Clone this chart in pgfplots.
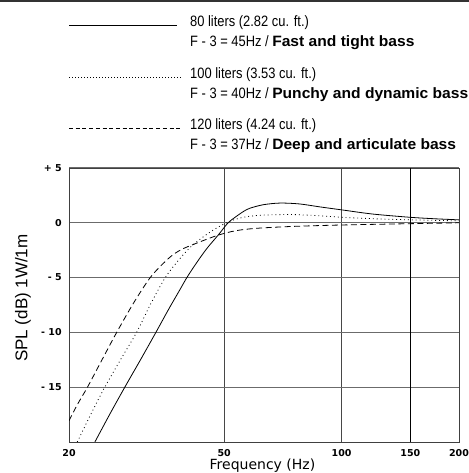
\documentclass[border=0pt]{standalone}
\usepackage{fontspec}
\setmainfont{Liberation Sans}
\newfontfamily\legreg[FakeStretch=0.86]{Liberation Sans}
\newfontfamily\legbf[FakeStretch=1.04]{Liberation Sans}
\newfontfamily\tickfont{DejaVu Sans}
\usepackage{pgfplots}
\pgfplotsset{compat=1.18}

\pgfplotstableread{
f db
23.3 -20
25.5 -17.4
27.8 -15
30.5 -12.5
33.4 -10
36 -7.9
38.5 -6.1
40.1 -5
42.1 -3.85
45 -2.4
48.3 -1.1
51.1 -0.02
53.3 0.5
56 1.03
58.2 1.33
63 1.65
69.5 1.8
78 1.72
88 1.45
100 1.18
120 0.8
150 0.5
175 0.36
200 0.27
}\eighty

\pgfplotstableread{
f db
21.0 -20
22.8 -17.4
24.7 -15
27.2 -12.4
29.8 -10
32.5 -7.3
35.3 -5
37.8 -3.6
40.1 -2.55
41.3 -2.1
44.1 -1.3
47.4 -0.55
50 -0.1
53 0.28
57.1 0.56
63 0.7
75 0.75
90 0.62
100 0.5
125 0.35
150 0.27
175 0.22
200 0.18
}\hundred

\pgfplotstableread{
f db
20 -18.06
21 -16.6
22.3 -15
24.3 -12.5
26.5 -10
29.3 -7.3
32.3 -5
34.9 -3.7
37 -2.9
39.3 -2.35
42.9 -1.8
45.5 -1.45
48.3 -1.12
52.2 -0.8
56 -0.62
61.8 -0.48
75 -0.33
100 -0.2
150 -0.08
200 0
}\hundredtwenty

\begin{document}
\begin{tikzpicture}[x=1bp,y=1bp]
\useasboundingbox (0,0) rectangle (469,473);
\draw[black!80, line width=2bp] (0,471.5) -- (469,471.5);

% legend samples
\draw[black, line width=0.8bp] (69,447.3) -- (177,447.3);
\draw[black, line width=0.8bp, dash pattern=on 0.8bp off 2.2bp] (69,395.7) -- (183,395.7);
\draw[black, line width=0.8bp, dash pattern=on 4bp off 2.7bp] (69,344.7) -- (182,344.7);

\node[anchor=base west, inner sep=0] at (190,446.3) {\fontsize{15bp}{18bp}\legreg 80 liters (2.82 cu. ft.)};
\node[anchor=base west, inner sep=0] at (190,426.3) {\fontsize{15bp}{18bp}\legreg F - 3 = 45Hz / {\legbf\bfseries Fast and tight bass}};
\node[anchor=base west, inner sep=0] at (190,394.7) {\fontsize{15bp}{18bp}\legreg 100 liters (3.53 cu. ft.)};
\node[anchor=base west, inner sep=0] at (190,374.7) {\fontsize{15bp}{18bp}\legreg F - 3 = 40Hz / {\legbf\bfseries Punchy and dynamic bass}};
\node[anchor=base west, inner sep=0] at (190,343) {\fontsize{15bp}{18bp}\legreg 120 liters (4.24 cu. ft.)};
\node[anchor=base west, inner sep=0] at (190,323) {\fontsize{15bp}{18bp}\legreg F - 3 = 37Hz / {\legbf\bfseries Deep and articulate bass}};

\begin{axis}[
  at={(69bp,31bp)}, anchor=south west,
  scale only axis, width=390bp, height=274bp,
  xmode=log, xmin=20, xmax=200, ymin=-20, ymax=5,
  xtick={20,50,100,150,200}, xticklabels={20,50,100,150,200},
  ytick={-15,-10,-5,0,5}, yticklabels={- 15,- 10,- 5,0,+ 5},
  minor tick num=0, major tick length=0pt,
  xminorgrids=false, yminorgrids=false,
  xmajorgrids, ymajorgrids,
  major x grid style={black!72, line width=0.9bp},
  major y grid style={black!58, line width=1.1bp},
  axis line style={black!75, line width=0.8bp},
  xticklabel style={font=\fontsize{9.5bp}{11bp}\tickfont\bfseries, yshift=-4.3bp},
  yticklabel style={font=\fontsize{9.5bp}{11bp}\tickfont\bfseries, xshift=-3.8bp},
  xlabel={Frequency (Hz)},
  xlabel style={at={(axis description cs:0.496,-0.1011)}, anchor=base, font=\fontsize{14bp}{16bp}\tickfont},
  ylabel={SPL (dB) 1W/1m},
  ylabel style={at={(axis description cs:-0.118,0.525)}, anchor=center, font=\fontsize{17bp}{19bp}\selectfont},
]
\draw[black, line width=0.9bp] (axis cs:150,-20) -- (axis cs:150,5);
\addplot[black, line width=0.8bp, smooth] table[x=f,y=db] {\eighty};
\addplot[black, line width=0.8bp, smooth, dash pattern=on 0.9bp off 3bp] table[x=f,y=db] {\hundred};
\addplot[black, line width=0.8bp, smooth, dash pattern=on 6bp off 3.5bp] table[x=f,y=db] {\hundredtwenty};
\end{axis}
\end{tikzpicture}
\end{document}
